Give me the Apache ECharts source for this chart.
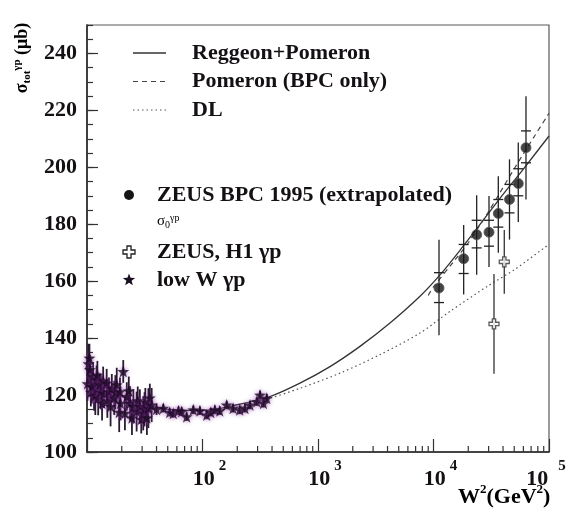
<!DOCTYPE html>
<html>
<head>
<meta charset="utf-8">
<script src="https://cdn.jsdelivr.net/npm/echarts@6/dist/echarts.min.js"></script>
<style>
  html, body { margin: 0; padding: 0; background: #fff; }
  #chart { width: 570px; height: 514px; }
</style>
</head>
<body>
<div id="chart"></div>
<script>
// Regge fits: Reggeon + Pomeron (solid)
const regW2 = [10, 15, 20, 30, 50, 100, 200, 384, 698, 1270, 2310, 4200, 7640, 11380, 18000, 25000, 40000, 60000, 100000];
const regSigma = [127, 122, 119.5, 116.8, 115, 114.6, 116.6, 119.5, 124.2, 130, 137.1, 145.3, 154.7, 162.2, 172.2, 179.7, 190.5, 199.4, 211];

// Pomeron only, fitted to BPC (dashed)
const pomW2 = [9000, 10000, 15000, 20000, 30000, 50000, 75000, 100000];
const pomSigma = [155, 158, 167, 173.5, 184.5, 199.5, 211, 219];

// Donnachie-Landshoff (dotted)
const dlW2 = [10, 15, 20, 30, 50, 100, 200, 384, 700, 1550, 3440, 7640, 13900, 30000, 50000, 100000];
const dlSigma = [127, 122.5, 119.5, 117, 115, 114.3, 115.8, 118.9, 122.4, 127.7, 134.2, 141.8, 149.4, 158.5, 164, 173];

// ZEUS BPC 1995, extrapolated sigma_0
const bpcW2 = [11160, 18250, 23650, 30240, 36400, 45500, 54200, 63200];
const bpcSigma = [157.6, 167.9, 176.3, 177.2, 183.8, 188.7, 194.3, 206.9];
const bpcTotLo = [141, 155.3, 162.3, 165, 170, 174.6, 180.8, 188.7];
const bpcTotHi = [174.6, 179.7, 190.2, 189.9, 196.9, 202.8, 208.7, 225];
const bpcStatLo = [152.5, 162.7, 171.7, 172.3, 179, 184, 190, 201.6];
const bpcStatHi = [163, 172.9, 181.4, 181.4, 188.7, 194, 199.5, 212.8];

// ZEUS, H1 photoproduction
const hW2 = [33400, 41000];
const hSigma = [145, 166.8];
const hErr = [17.5, 11.2];

// low W photoproduction
const lowW2 = [10.1, 10.3, 10.5, 10.6, 10.8, 11.0, 11.3, 11.5, 11.8, 12.1, 12.3, 12.5, 12.9, 13.2, 13.5, 13.8, 14.0, 14.8, 15.0, 15.5, 16.0, 16.4, 17.2, 17.6, 18.1, 19.0, 19.3, 19.5, 20.6, 21.3, 22.1, 23.0, 23.6, 24.5, 25.2, 26.9, 27.5, 28.7, 29.5, 30.7, 31.5, 32.0, 33.0, 34.0, 35.0, 36.3, 40, 45.8, 52, 55.8, 62, 66, 72.9, 83.3, 95, 108.7, 118, 128, 141, 162, 184, 210, 233, 258, 295, 315, 337, 360];
const lowSigma = [124, 131, 133, 128.9, 121, 123, 126.5, 119.5, 120, 125.4, 127, 118.9, 123.6, 121, 117.1, 125, 120.5, 124.2, 118, 121.2, 116, 122.4, 119, 121, 123.6, 114, 121.2, 117.1, 128.3, 113.6, 119.5, 121.5, 117.1, 112, 116, 114.2, 118, 116, 111.5, 113.6, 115, 117.5, 112, 115.4, 119, 116.5, 115, 115.4, 114, 113.6, 114.5, 114.2, 112.4, 114.8, 114.5, 113, 114, 114.8, 114.5, 116.5, 115.4, 114.8, 115.4, 116.5, 117.7, 120, 117.1, 118.9];
const lowErr = [6, 7, 5, 5, 5, 6, 5, 5, 7, 5, 5, 6, 4, 6, 6, 5, 5, 5, 6, 5, 7, 5, 6, 6, 6, 7, 5, 6, 4, 6, 5, 5, 6, 6, 6, 7, 5, 6, 5, 6, 6, 5, 6, 7, 5, 6, 2, 1.5, 1.5, 1.5, 1.5, 1.5, 1.5, 1.5, 1.5, 1.5, 1.5, 1.5, 1.5, 1.5, 1.5, 1.5, 1.5, 1.5, 1.5, 1.5, 1.5, 1.5];

// x-axis minor tick values (2..9 in each decade)
const minorTickW2 = [];
[10, 100, 1000, 10000].forEach(d => { for (let k = 2; k <= 9; k++) minorTickW2.push(k * d); });

const SERIF = "'Liberation Serif', 'Times New Roman', 'DejaVu Serif', serif";
const INK = '#141014';

const starPath = 'path://M0,-10L2.35,-3.24L9.51,-3.09L3.8,1.24L5.88,8.09L0,4L-5.88,8.09L-3.8,1.24L-9.51,-3.09L-2.35,-3.24Z';
const crossPath = 'path://M-1,-3L1,-3L1,-1L3,-1L3,1L1,1L1,3L-1,3L-1,1L-3,1L-3,-1L-1,-1Z';

const zip = (a, b) => a.map((v, i) => [v, b[i]]);

function errBar(color, width) {
  return function (params, api) {
    const x = api.value(0);
    const p1 = api.coord([x, api.value(1)]);
    const p2 = api.coord([x, api.value(2)]);
    return {
      type: 'line',
      shape: { x1: p1[0], y1: p1[1], x2: p2[0], y2: p2[1] },
      style: { stroke: color, lineWidth: width }
    };
  };
}

function bpcBar(params, api) {
  const x = api.value(0);
  const a = api.coord([x, api.value(1)]);
  const b = api.coord([x, api.value(2)]);
  const c = api.coord([x, api.value(3)]);
  const d = api.coord([x, api.value(4)]);
  const st = { stroke: '#222', lineWidth: 1.3 };
  return {
    type: 'group',
    children: [
      { type: 'line', shape: { x1: a[0], y1: a[1], x2: b[0], y2: b[1] }, style: st },
      { type: 'line', shape: { x1: c[0] - 5, y1: c[1], x2: c[0] + 5, y2: c[1] }, style: st },
      { type: 'line', shape: { x1: d[0] - 5, y1: d[1], x2: d[0] + 5, y2: d[1] }, style: st }
    ]
  };
}

function minorTick(params, api) {
  const p = api.coord([api.value(0), api.value(1)]);
  return {
    type: 'line',
    shape: { x1: p[0], y1: p[1], x2: p[0], y2: p[1] - 6 },
    style: { stroke: '#333', lineWidth: 1.2 }
  };
}

function starPoints(cx, cy, r) {
  const pts = [];
  for (let i = 0; i < 10; i++) {
    const ang = -Math.PI / 2 + i * Math.PI / 5;
    const rr = i % 2 === 0 ? r : r * 0.42;
    pts.push([cx + rr * Math.cos(ang), cy + rr * Math.sin(ang)]);
  }
  return pts;
}
function crossPoints(cx, cy, s) {
  const u = s / 3;
  return [[-1,-3],[1,-3],[1,-1],[3,-1],[3,1],[1,1],[1,3],[-1,3],[-1,1],[-3,1],[-3,-1],[-1,-1]]
    .map(p => [cx + p[0] * u, cy + p[1] * u]);
}

const legendFont = { fontFamily: SERIF, fontWeight: 'bold', fontSize: 22, fill: INK };
const tickFont = { fontFamily: SERIF, fontWeight: 'bold', color: INK };

const chart = echarts.init(document.getElementById('chart'), null, { renderer: 'canvas' });

chart.setOption({
  backgroundColor: '#fff',
  animation: false,
  grid: {
    left: 87, right: 21, top: 25, bottom: 62, containLabel: false, outerBoundsMode: 'none',
    show: true, borderColor: '#5a5a5a', borderWidth: 1.2, backgroundColor: 'transparent'
  },
  xAxis: [{
    type: 'log', logBase: 10, min: 10, max: 100000,
    axisLine: { lineStyle: { color: '#222', width: 1.5 } },
    axisTick: { inside: true, length: 13, lineStyle: { color: '#333', width: 1.2 } },
    splitLine: { show: false },
    axisLabel: {
      margin: 7, showMaxLabel: true, hideOverlap: false,
      formatter: function (v) {
        if (v < 50) return '';
        const e = Math.round(Math.log10(v));
        return e === 5 ? '{b5|10}{s5|5}' : '{b|10}{s|' + e + '}';
      },
      rich: {
        b: Object.assign({ fontSize: 22, padding: [0, 0, 0, 14] }, tickFont),
        s: Object.assign({ fontSize: 15, padding: [0, 0, 26, 4] }, tickFont),
        b5: Object.assign({ fontSize: 22 }, tickFont),
        s5: Object.assign({ fontSize: 15, padding: [0, 6, 26, 10] }, tickFont)
      }
    }
  }],
  yAxis: [{
    type: 'value', min: 100, max: 250, interval: 20,
    axisLine: { show: true, lineStyle: { color: '#222', width: 1.5 } },
    axisTick: { inside: true, length: 11, lineStyle: { color: '#333', width: 1.2 } },
    splitLine: { show: false },
    axisLabel: Object.assign({ showMaxLabel: false, margin: 10, fontSize: 22 }, tickFont)
  }, {
    type: 'value', min: 100, max: 250, interval: 5, position: 'left', offset: 0,
    axisLine: { show: false },
    axisTick: { inside: true, length: 6, lineStyle: { color: '#333', width: 1.2 } },
    splitLine: { show: false },
    axisLabel: { show: false }
  }],
  series: [
    {
      type: 'custom', renderItem: minorTick, silent: true,
      data: minorTickW2.map(v => [v, 100]), z: 1
    },
    {
      name: 'Reggeon+Pomeron', type: 'line', data: zip(regW2, regSigma), smooth: 0.3,
      showSymbol: false, lineStyle: { color: '#333', width: 1.3 }, z: 2
    },
    {
      name: 'Pomeron (BPC only)', type: 'line', data: zip(pomW2, pomSigma), smooth: 0.3,
      showSymbol: false, lineStyle: { color: '#444', width: 1.2, type: [5, 4] }, z: 2
    },
    {
      name: 'DL', type: 'line', data: zip(dlW2, dlSigma), smooth: 0.3,
      showSymbol: false, lineStyle: { color: '#555', width: 1.2, type: [1.5, 3] }, z: 2
    },
    {
      type: 'custom', renderItem: errBar('#2b1a33', 1.8), silent: true, z: 3,
      data: lowW2.map((w, i) => [w, lowSigma[i] - lowErr[i], lowSigma[i] + lowErr[i]])
    },
    {
      name: 'low W γp', type: 'scatter', data: zip(lowW2, lowSigma), symbol: starPath, symbolSize: 12, z: 4,
      itemStyle: { color: '#150a1a', shadowColor: 'rgba(150,50,180,0.8)', shadowBlur: 4 }
    },
    {
      type: 'custom', renderItem: bpcBar, silent: true, z: 3,
      data: bpcW2.map((w, i) => [w, bpcTotLo[i], bpcTotHi[i], bpcStatLo[i], bpcStatHi[i]])
    },
    {
      name: 'ZEUS BPC 1995 (extrapolated)', type: 'scatter', data: zip(bpcW2, bpcSigma), symbol: 'circle', symbolSize: 10, z: 4,
      itemStyle: { color: '#151515', borderColor: '#555', borderWidth: 1 }
    },
    {
      type: 'custom', renderItem: errBar('#333', 1.3), silent: true, z: 3,
      data: hW2.map((w, i) => [w, hSigma[i] - hErr[i], hSigma[i] + hErr[i]])
    },
    {
      name: 'ZEUS, H1 γp', type: 'scatter', data: zip(hW2, hSigma), symbol: crossPath, symbolSize: 10, z: 4,
      itemStyle: { color: '#fff', borderColor: '#333', borderWidth: 1.3 }
    }
  ],
  graphic: [
    // legend: curves
    { type: 'line', shape: { x1: 133, y1: 53, x2: 166, y2: 53 }, style: { stroke: '#333', lineWidth: 1.3 } },
    { type: 'text', x: 192, y: 53, style: Object.assign({ text: 'Reggeon+Pomeron', verticalAlign: 'middle' }, legendFont) },
    { type: 'line', shape: { x1: 133, y1: 81.5, x2: 166, y2: 81.5 }, style: { stroke: '#444', lineWidth: 1.2, lineDash: [5, 4] } },
    { type: 'text', x: 192, y: 81.5, style: Object.assign({ text: 'Pomeron (BPC only)', verticalAlign: 'middle' }, legendFont) },
    { type: 'line', shape: { x1: 133, y1: 110, x2: 166, y2: 110 }, style: { stroke: '#555', lineWidth: 1.2, lineDash: [1.5, 3] } },
    { type: 'text', x: 192, y: 110, style: Object.assign({ text: 'DL', verticalAlign: 'middle' }, legendFont) },
    // legend: data sets
    { type: 'circle', shape: { cx: 129, cy: 195, r: 5 }, style: { fill: '#151515' } },
    { type: 'text', x: 157, y: 195, style: Object.assign({ text: 'ZEUS BPC 1995 (extrapolated)', verticalAlign: 'middle' }, legendFont) },
    {
      type: 'text', x: 157, y: 221,
      style: {
        text: '{m|σ}{sub|0}{sup|γp}', verticalAlign: 'middle',
        rich: {
          m: { fontFamily: SERIF, fontSize: 15, color: INK },
          sub: { fontFamily: SERIF, fontSize: 10, color: INK, padding: [8, 0, 0, 0] },
          sup: { fontFamily: SERIF, fontSize: 10, color: INK, padding: [0, 0, 6, 0] }
        }
      }
    },
    { type: 'polygon', shape: { points: crossPoints(129, 252, 6) }, style: { fill: '#fff', stroke: '#222', lineWidth: 1.3 } },
    { type: 'text', x: 157, y: 252, style: Object.assign({ text: 'ZEUS, H1 γp', verticalAlign: 'middle' }, legendFont) },
    { type: 'polygon', shape: { points: starPoints(129, 280, 6.5) }, style: { fill: '#1a0f20' } },
    { type: 'text', x: 157, y: 280, style: Object.assign({ text: 'low W γp', verticalAlign: 'middle' }, legendFont) },
    // y-axis title
    {
      type: 'text', x: 22, y: 58, rotation: Math.PI / 2,
      style: {
        text: '{m|σ}{sub|tot}{sup|γp}{m| (μb)}', align: 'center', verticalAlign: 'middle',
        rich: {
          m: { fontFamily: SERIF, fontWeight: 'bold', fontSize: 18, color: INK },
          sub: { fontFamily: SERIF, fontWeight: 'bold', fontSize: 11, color: INK, padding: [10, 0, 0, 0] },
          sup: { fontFamily: SERIF, fontWeight: 'bold', fontSize: 11, color: INK, padding: [0, 0, 10, 0] }
        }
      }
    },
    // x-axis title
    {
      type: 'text', x: 458, y: 497,
      style: {
        text: '{m|W}{s|2}{m|(GeV}{s|2}{m|)}', verticalAlign: 'middle',
        rich: {
          m: { fontFamily: SERIF, fontWeight: 'bold', fontSize: 22, color: INK },
          s: { fontFamily: SERIF, fontWeight: 'bold', fontSize: 13, color: INK, padding: [0, 0, 14, 0] }
        }
      }
    }
  ]
});
</script>
</body>
</html>
